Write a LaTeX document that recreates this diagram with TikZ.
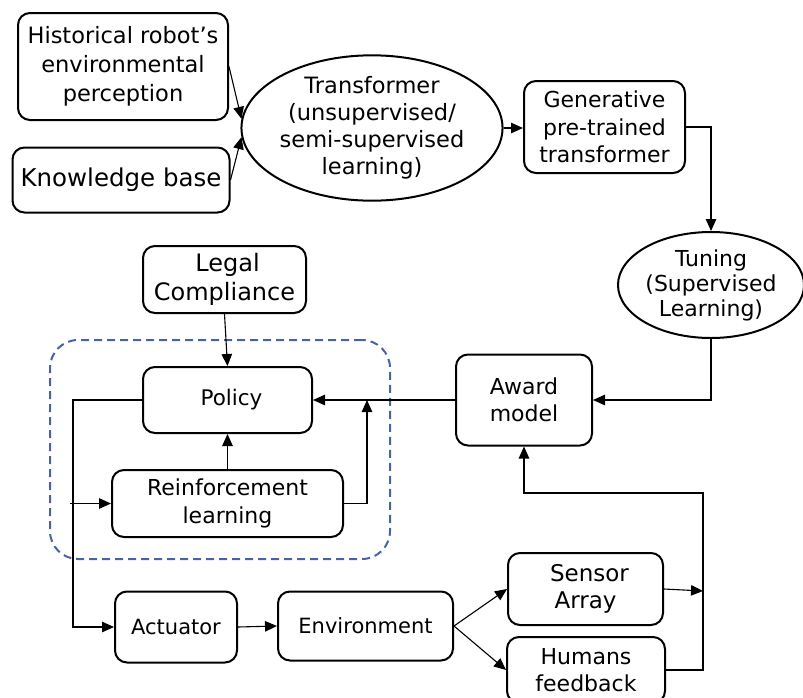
\documentclass[tikz,border=0pt]{standalone}
\usepackage{fontspec}
\setmainfont{DejaVu Sans}
\usetikzlibrary{arrows.meta,shapes.geometric}

\definecolor{groupblue}{RGB}{70,100,165}

\tikzset{
  box/.style={draw, line width=2pt, rounded corners=12pt, align=center,
              inner sep=0pt, font=\fontsize{22}{27.5}\selectfont},
  oval/.style={draw, line width=2pt, ellipse, align=center, inner sep=0pt,
               font=\fontsize{22}{26.5}\selectfont},
  arr/.style={line width=1.1pt, -{Triangle[length=12pt,width=10.5pt]}},
  groupframe/.style={draw=groupblue, line width=2pt, dash pattern=on 8pt off 5pt,
                     rounded corners=28pt, inner sep=0pt}
}

\begin{document}
\begin{tikzpicture}[x=1pt, y=-1pt]
\useasboundingbox (0,0) rectangle (803,697);

% grouping frame around the learning loop
\node[groupframe, minimum width=340pt, minimum height=219pt] (group) at (220,449.5) {};

% upper chain: data sources, pre-training, tuning
\node[box, minimum width=210pt, minimum height=107pt, font=\fontsize{22.5}{29}\selectfont]
  (hist) at (123,66.5) {Historical robot's\\environmental\\perception};
\node[box, minimum width=217pt, minimum height=65pt, font=\fontsize{24.5}{29}\selectfont]
  (kb) at (121,180) {Knowledge base};
\node[oval, minimum width=246pt, minimum height=122pt, font=\fontsize{22.5}{27}\selectfont]
  (trans) at (372,128)
  {Transformer\\ (unsupervised/\\semi-supervised\\learning)};
\node[box, minimum width=161pt, minimum height=92pt] (gen) at (604.5,127)
  {Generative\\pre-trained\\transformer};
\node[oval, minimum width=186pt, minimum height=106pt, font=\fontsize{22}{25}\selectfont]
  (tun) at (711,285) {Tuning\\(Supervised\\Learning)};

% policy loop
\node[box, minimum width=163pt, minimum height=67pt, font=\fontsize{24}{29}\selectfont]
  (legal) at (224.5,279.5) {\hspace*{6pt}Legal\\Compliance};
\node[box, minimum width=169pt, minimum height=66pt, font=\fontsize{21.5}{27}\selectfont]
  (pol) at (227.5,400) {\hspace*{8pt}Policy};
\node[box, minimum width=231pt, minimum height=67pt] (rl) at (227.5,503.5)
  {Reinforcement\\learning};
\node[box, minimum width=136pt, minimum height=91pt] (award) at (524,400)
  {Award\\model};

% acting and sensing
\node[box, minimum width=122pt, minimum height=71pt, font=\fontsize{21}{27}\selectfont]
  (act) at (176,627) {Actuator};
\node[box, minimum width=175pt, minimum height=69pt, font=\fontsize{21}{27}\selectfont]
  (env) at (365.5,626) {Environment};
\node[box, minimum width=155pt, minimum height=72pt, font=\fontsize{23}{27.5}\selectfont]
  (sens) at (585.5,589) {\hspace*{8pt}Sensor\\Array};
\node[box, minimum width=158pt, minimum height=66pt] (hum) at (586,670)
  {Humans\\feedback};

% junction points
\coordinate (split) at (73,400);
\coordinate (rlup) at (367,400);
\coordinate (sensin) at (703,591);
\coordinate (fbturn) at (703,493);

% connectors
\draw[arr] (hist.east) -- (trans.176);
\draw[arr] (kb.east) -- (trans.184);
\draw[arr] (trans.east) -- (gen.west |- trans.east);
\draw[arr] (gen.east) -| (tun.north);
\draw[arr] (tun.south) |- (award.east);
\draw[arr] (award.west) -- (pol.east);
\draw[arr] (legal.south) -- (pol.north);
\draw[arr] (rl.north) -- (pol.south);
\draw[arr] (rl.east) -| (rlup);
\draw[arr] (pol.west) -- (split) |- (act.west);
\draw[arr] ([xshift=-3pt]split |- rl.west) -- (rl.west);
\draw[arr] (act.east) -- (env.west);
\draw[arr] (env.east) -- (sens.west);
\draw[arr] (env.east) -- (hum.west);
\draw[arr] (sens.east) -- (sensin);
\draw[arr] (hum.east) -| (fbturn) -| (award.south);
\end{tikzpicture}
\end{document}
